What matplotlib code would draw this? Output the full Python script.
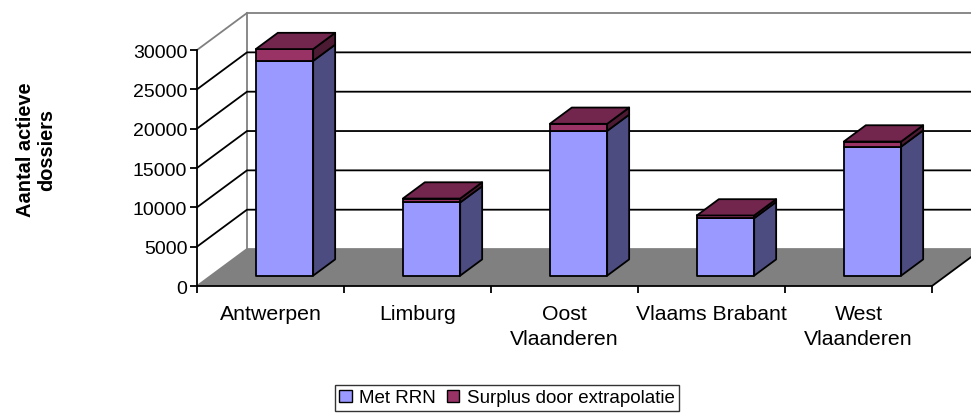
import matplotlib
matplotlib.use("Agg")
import matplotlib.pyplot as plt
from matplotlib.patches import Polygon, Patch

plt.rcParams["font.family"] = ["Liberation Sans", "DejaVu Sans"]

# ---- data ----
provinces = ["Antwerpen", "Limburg", "Oost\nVlaanderen", "Vlaams Brabant", "West\nVlaanderen"]
met_rrn = [27300, 9300, 18400, 7300, 16400]
surplus = [1500, 500, 900, 350, 650]
y_ticks = [0, 5000, 10000, 15000, 20000, 25000, 30000]
series_names = ["Met RRN", "Surplus door extrapolatie"]

# ---- styling ----
blue_front, blue_side = "#9999FF", "#4C4C80"
red_front, red_side, red_top = "#993366", "#4D1A33", "#73264D"
floor_col = "#808080"
wall_edge = "#808080"

W, H = 971, 414
fig = plt.figure(figsize=(W / 100, H / 100), dpi=100)
ax = fig.add_axes([197 / W, 127 / H, 735 / W, 236 / H])
ax.set_xlim(0, len(provinces))
ax.set_ylim(0, 30000)

# oblique depth of the 3D box (in data units)
DX, DY = 0.34, 4700
f0, fd = 0.28, 0.44      # bar starts at 28% of depth, bar depth 44%
bar_w = 0.39
n = len(provinces)


def poly(pts, fc, ec="black", lw=1.3, z=1):
    ax.add_patch(Polygon(pts, closed=True, facecolor=fc, edgecolor=ec,
                         linewidth=lw, clip_on=False, zorder=z, joinstyle="round"))


# side wall + back wall
poly([(0, 0), (DX, DY), (DX, 30000 + DY), (0, 30000)], "white", ec="none", z=0)
ax.plot([DX, DX], [DY, 30000 + DY], color=wall_edge, lw=1.3, clip_on=False, zorder=1)
ax.plot([DX, n + DX], [30000 + DY, 30000 + DY], color=wall_edge, lw=1.3, clip_on=False, zorder=1)
for v in y_ticks[1:-1]:
    ax.plot([0, DX, n + DX], [v, v + DY, v + DY], color="black", lw=1.3,
            clip_on=False, zorder=1)
ax.plot([0, DX], [30000, 30000 + DY], color=wall_edge, lw=1.3, clip_on=False, zorder=1)

# floor
poly([(0, 0), (n, 0), (n + DX, DY), (DX, DY)], floor_col, ec="none", z=2)
ax.plot([0, DX, n + DX], [0, DY, DY], color=wall_edge, lw=1.3, clip_on=False, zorder=2)
ax.plot([n, n + DX], [0, DY], color="black", lw=1.3, clip_on=False, zorder=2)

# bars
ox, oy = f0 * DX, f0 * DY
bx, by = fd * DX, fd * DY
for i in range(n):
    x0 = i + 0.5 - bar_w / 2 + ox
    x1 = x0 + bar_w
    base = oy
    segs = [(met_rrn[i], blue_front, blue_side), (surplus[i], red_front, red_side)]
    for val, front, side in segs:
        y0, y1 = base, base + val
        poly([(x0, y0), (x1, y0), (x1, y1), (x0, y1)], front, z=3)
        poly([(x1, y0), (x1 + bx, y0 + by), (x1 + bx, y1 + by), (x1, y1)], side, z=3)
        base = y1
    poly([(x0, base), (x1, base), (x1 + bx, base + by), (x0 + bx, base + by)], red_top, z=3)

# axes
for s in ["top", "right"]:
    ax.spines[s].set_visible(False)
ax.spines["left"].set_linewidth(1.3)
ax.spines["bottom"].set_linewidth(1.3)
ax.spines["left"].set_zorder(4)
ax.spines["bottom"].set_zorder(4)
ax.set_yticks(y_ticks)
ax.set_yticklabels([str(v) for v in y_ticks], fontsize=14)
ax.tick_params(axis="y", length=5, width=1.3, pad=2)
ax.set_xticks(range(n + 1))
ax.set_xticklabels([])
ax.tick_params(axis="x", which="major", length=5, width=1.3)
ax.set_xticks([i + 0.5 for i in range(n)], minor=True)
ax.set_xticklabels(provinces, minor=True, fontsize=15.3, linespacing=1.4)
ax.tick_params(axis="x", which="minor", length=0, pad=13)
ax.patch.set_visible(False)

fig.text(36 / W, 1 - 150 / H, "Aantal actieve\ndossiers", rotation=90,
         ha="center", va="center", fontsize=14.4, fontweight="bold")

handles = [Patch(facecolor=blue_front, edgecolor="black", linewidth=1.0),
           Patch(facecolor=red_front, edgecolor="black", linewidth=1.0)]
leg = fig.legend(handles, series_names, loc="lower center",
                 bbox_to_anchor=(507 / W, 0.0), ncol=2, fontsize=13.5,
                 frameon=True, fancybox=False, handlelength=0.65, handleheight=0.65,
                 handletextpad=0.4, columnspacing=0.6, borderpad=0.25,
                 borderaxespad=0.1)
leg.get_frame().set_edgecolor("black")
leg.get_frame().set_linewidth(1.0)

fig.savefig("out.png", dpi=100)
